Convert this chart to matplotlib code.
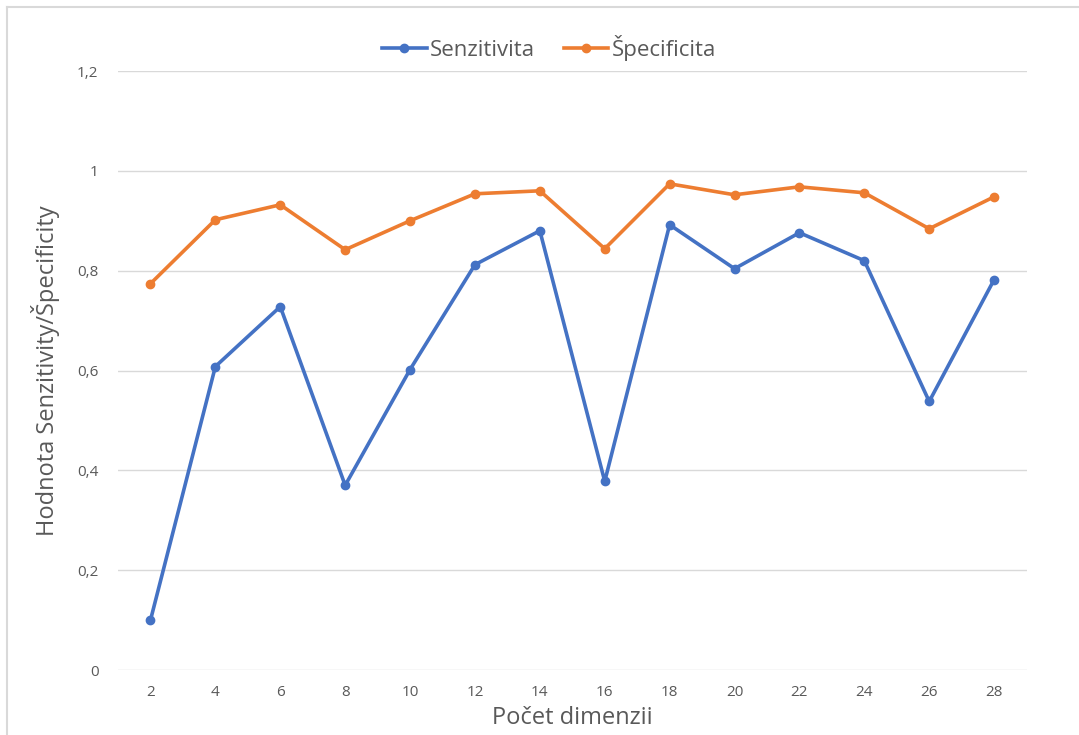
import numpy as np
import matplotlib.pyplot as plt
from matplotlib.lines import Line2D

# Data
dimensions = [2, 4, 6, 8, 10, 12, 14, 16, 18, 20, 22, 24, 26, 28]
senzitivita = [0.10, 0.608, 0.728, 0.370, 0.602, 0.812, 0.880, 0.378,
               0.892, 0.804, 0.876, 0.820, 0.538, 0.782]
specificita = [0.774, 0.902, 0.932, 0.842, 0.900, 0.954, 0.960, 0.844,
               0.974, 0.952, 0.968, 0.956, 0.884, 0.948]
y_ticks = [0, 0.2, 0.4, 0.6, 0.8, 1.0, 1.2]
y_tick_labels = ['0', '0,2', '0,4', '0,6', '0,8', '1', '1,2']

plt.rcParams['font.family'] = ['Open Sans', 'DejaVu Sans']

fig = plt.figure(figsize=(10.79, 7.35), dpi=100)
ax = fig.add_axes([0.1094, 0.0884, 0.8420, 0.8150])

x = np.arange(len(dimensions))
ax.plot(x, senzitivita, color='#4472C4', lw=2.6, marker='o', ms=6,
        label='Senzitivita')
ax.plot(x, specificita, color='#ED7D31', lw=2.6, marker='o', ms=6,
        label='Špecificita')

ax.set_xlim(-0.5, len(dimensions) - 0.5)
ax.set_ylim(0, 1.2)
ax.set_xticks(x)
ax.set_xticklabels([str(d) for d in dimensions])
ax.set_yticks(y_ticks)
ax.set_yticklabels(y_tick_labels)
ax.tick_params(length=0, labelsize=11, colors='#595959', pad=11)
ax.tick_params(axis='y', pad=14)
ax.grid(axis='y', color='#D9D9D9', lw=1)
ax.set_axisbelow(True)
for s in ax.spines.values():
    s.set_visible(False)

ax.set_xlabel('Počet dimenzii', fontsize=17, color='#595959', labelpad=4)
ax.set_ylabel('Hodnota Senzitivity/Špecificity', fontsize=17, color='#595959',
              labelpad=12)

fig.legend(loc='center', bbox_to_anchor=(0.509, 0.935), ncol=2, frameon=False,
           fontsize=16, labelcolor='#595959', handlelength=2.0,
           handletextpad=0.15, columnspacing=1.3)

# light frame on top and left
fig.add_artist(Line2D([0.0065, 1], [0.9905, 0.9905], color='#D9D9D9', lw=1.5))
fig.add_artist(Line2D([0.0065, 0.0065], [0, 0.9905], color='#D9D9D9', lw=1.5))

fig.savefig('out.png', dpi=100)
